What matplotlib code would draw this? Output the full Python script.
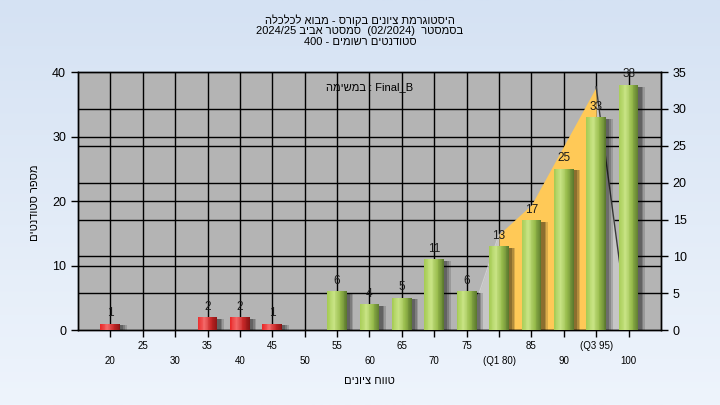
import matplotlib
matplotlib.use("Agg")
import matplotlib.pyplot as plt
import matplotlib.transforms as mtransforms
from matplotlib import colors
import numpy as np

plt.rcParams['font.family'] = ['Liberation Sans', 'DejaVu Sans']

# grade bins and counts
grades = [20, 25, 30, 35, 40, 45, 50, 55, 60, 65, 70, 75, 80, 85, 90, 95, 100]
counts = [1, 0, 0, 2, 2, 1, 0, 6, 4, 5, 11, 6, 13, 17, 25, 33, 38]
tick_labels = ['20', '25', '30', '35', '40', '45', '50', '55', '60', '65',
               '70', '75', '(Q1 80)', '85', '90', '(Q3 95)', '100']
pass_grade = 55

# quartile area (right axis)
area_x = [75, 80, 85, 90, 95, 100]
area_y = [0, 13, 17, 25, 33, 0]
q1, q3 = 80, 95


def heb(s):
    # matplotlib draws left to right, so flip hebrew runs for display
    return s[::-1]


# titles, written in display order (hebrew parts flipped)
title_lines = [
    heb("היסטוגרמת ציונים בקורס - מבוא לכלכלה"),
    "2024/25 " + heb("סמסטר אביב") + "  (02/2024)  " + heb("בסמסטר"),
    "400 - " + heb("סטודנטים רשומים"),
]
task_text = heb("במשימה") + " : Final_B"
xlabel = heb("טווח ציונים")
ylabel = heb("מספר סטודנטים")

fig = plt.figure(figsize=(7.2, 4.05), dpi=100)

# background gradient
bg = fig.add_axes([0, 0, 1, 1], zorder=-10)
grad = np.linspace(0, 1, 256).reshape(-1, 1)
bg_cmap = colors.LinearSegmentedColormap.from_list('bg', ['#d5e2f3', '#eef4fc'])
bg.imshow(grad, aspect='auto', cmap=bg_cmap, extent=[0, 1, 0, 1])
bg.axis('off')

# ax holds the area (right scale), ax2 holds the bars (left scale)
ax = fig.add_axes([0.1083, 0.185, 0.8097, 0.637])
ax2 = ax.twinx()
ax.set_facecolor('#b4b4b4')
ax2.patch.set_visible(False)

idx = {g: i for i, g in enumerate(grades)}
xpos = np.arange(len(grades))

ax.set_xlim(-1, len(grades))
ax.set_ylim(0, 35)
ax2.set_ylim(0, 40)

# grid lines
for i in xpos:
    ax.axvline(i, color='black', lw=1, zorder=0)
for v in range(5, 35, 5):
    ax.axhline(v, color='black', lw=1, zorder=0)
blend = mtransforms.blended_transform_factory(ax.transAxes, ax2.transData)
for v in range(10, 40, 10):
    ax.plot([0, 1], [v, v], color='black', lw=1, transform=blend, zorder=0)

# area
ax_i = np.array([idx[g] for g in area_x])
ay = np.array(area_y, dtype=float)
i1, i3 = area_x.index(q1), area_x.index(q3)
ax.fill_between(ax_i[:i1 + 1], ay[:i1 + 1], color='#c6c6c6', lw=0, zorder=1)
ax.fill_between(ax_i[i3:], ay[i3:], color='#c6c6c6', lw=0, zorder=1)
ax.fill_between(ax_i[i1:i3 + 1], ay[i1:i3 + 1], color='#ffc957', lw=0, zorder=2)
ax.plot(ax_i[i3:], ay[i3:], color='#3a3a3a', lw=1, zorder=3)
ax.plot(ax_i[:i1 + 1], ay[:i1 + 1], color='#d0d0d0', lw=0.8, zorder=3)

# bars with cylinder shading
bar_w = 0.61
n = 24
cnt = np.array(counts, dtype=float)
shown = cnt > 0
green = colors.LinearSegmentedColormap.from_list('g', ['#a6cc55', '#c9e486', '#98bc4c', '#5c7a2e'])
red = colors.LinearSegmentedColormap.from_list('r', ['#e82a2a', '#f46a6a', '#c82828', '#8a1414'])
is_pass = np.array(grades) >= pass_grade

# shadows
for k, a in zip([0.2, 0.15, 0.1], [0.25, 0.3, 0.35]):
    ax2.bar(xpos[shown] + k, cnt[shown] - 0.25, width=bar_w, bottom=0,
            color='black', alpha=a * 0.6, lw=0, zorder=4)

for k in range(n):
    off = -bar_w / 2 + (k + 0.5) * bar_w / n
    t = k / (n - 1)
    cols = [green(t) if p else red(t) for p in is_pass[shown]]
    ax2.bar(xpos[shown] + off, cnt[shown], width=bar_w / n * 1.05, color=cols,
            lw=0, zorder=5)

for x, c in zip(xpos[shown], cnt[shown]):
    ax2.text(x, c + 0.7, f"{int(c)}", ha='center', va='bottom', fontsize=8.5,
             color='#1a1a1a', zorder=6)

# axes styling
ax.yaxis.tick_right()
ax2.yaxis.tick_left()
ax.set_yticks(np.arange(0, 36, 5))
ax2.set_yticks(np.arange(0, 41, 10))
ax.tick_params(axis='y', labelsize=9, length=5, width=1, colors='black')
ax2.tick_params(axis='y', labelsize=9, length=5, width=1, colors='black')

xl = [lab if i % 2 == 1 else '\n' + lab for i, lab in enumerate(tick_labels)]
ax.set_xticks(xpos)
ax.set_xticklabels(xl, fontsize=7, linespacing=1.55)
ax.tick_params(axis='x', length=5, width=1, pad=3)

for a in (ax, ax2):
    for s in a.spines.values():
        s.set_color('black')
        s.set_linewidth(1)

fig.text(0.5, 0.965, "\n".join(title_lines), ha='center', va='top', fontsize=8, linespacing=1.05)
ax.text(0.5, 0.94, task_text, transform=ax.transAxes, ha='center', va='center', fontsize=8, zorder=7)
fig.text(0.513, 0.06, xlabel, ha='center', va='center', fontsize=8)
fig.text(0.048, 0.5, ylabel, ha='center', va='center', rotation=90, fontsize=8)

fig.savefig('out.png', dpi=100)
